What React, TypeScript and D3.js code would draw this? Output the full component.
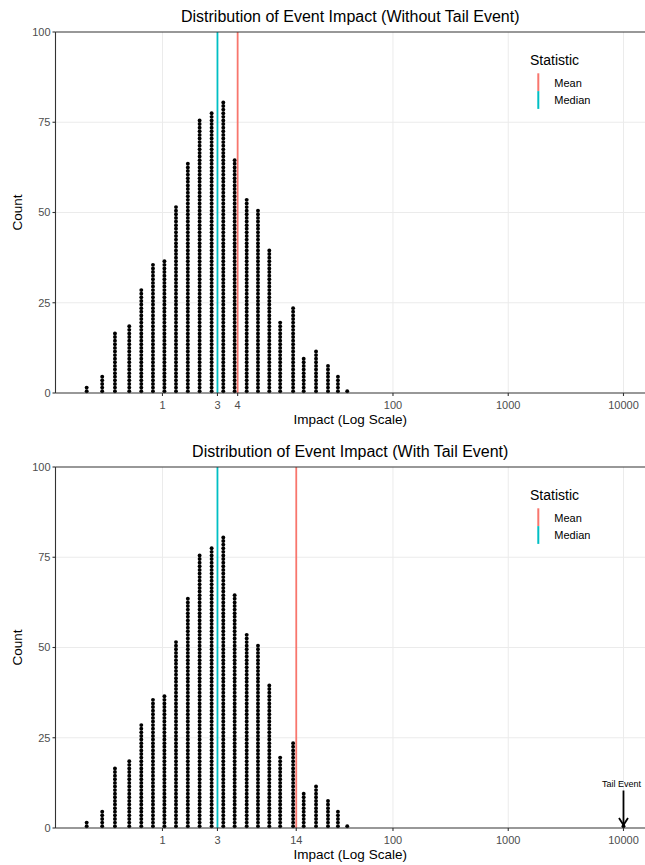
import React from "react";
import * as d3 from "d3";

// ---- data ----
const binImpacts = [0.22, 0.3, 0.387, 0.515, 0.655, 0.827, 1.04, 1.31, 1.66, 2.1, 2.67, 3.37, 4.23, 5.38, 6.74, 8.45, 10.5, 13.6, 16.8, 21.5, 27.3, 33.3, 40.1];
const binCounts = [2, 5, 17, 19, 29, 36, 37, 52, 64, 76, 78, 81, 65, 54, 51, 40, 20, 24, 10, 12, 8, 5, 1];
const tailImpact = 10000;
const tailCount = 1;
const medianImpact = 3.0;
const meanWithout = 4.49;
const meanWith = 14.48;
const yTicks = [0, 25, 50, 75, 100];
const fixedXBreaks = [1, 100, 1000, 10000];
const statNames = ["Mean", "Median"];
const statColors = ["#F8766D", "#00BFC4"];
const titles = ["Distribution of Event Impact (Without Tail Event)", "Distribution of Event Impact (With Tail Event)"];

const W = 645;
const H = 865;
const FONT = "'Liberation Sans', Arial, Helvetica, sans-serif";

const xScale = d3.scaleLog().domain([0.118, 15370]).range([55.5, 645]);

function Panel({ top, title, mean, withTail }: { top: number; title: string; mean: number; withTail: boolean }) {
  const y = d3.scaleLinear().domain([0, 100]).range([top + 361, top]);
  const y0 = y(0);
  const unit = y(0) - y(1);
  const r = 1.95;
  const x0 = xScale.range()[0];
  const x1 = xScale.range()[1];
  const breaks = [1, medianImpact, mean, 100, 1000, 10000].sort((a, b) => a - b);
  const dots: { cx: number; cy: number }[] = [];
  binImpacts.forEach((v, i) => {
    for (let k = 0; k < binCounts[i]; k++) dots.push({ cx: xScale(v), cy: y0 - unit * (k + 0.5) });
  });
  if (withTail) {
    for (let k = 0; k < tailCount; k++) dots.push({ cx: xScale(tailImpact), cy: y0 - unit * (k + 0.5) });
  }
  const statValues = [mean, medianImpact];
  const legX = 530;
  const legTop = top + 28;
  const tx = xScale(tailImpact);
  return (
    <g>
      <text x={(x0 + x1) / 2} y={top - 10} textAnchor="middle" fontSize={16} fill="#000" fontFamily={FONT}>
        {title}
      </text>
      {/* grid */}
      {yTicks.filter((t) => t > 0 && t < 100).map((t) => (
        <line key={"gy" + t} x1={x0} x2={x1} y1={y(t)} y2={y(t)} stroke="#EBEBEB" strokeWidth={1} />
      ))}
      {fixedXBreaks.map((b) => (
        <line key={"gx" + b} x1={xScale(b)} x2={xScale(b)} y1={y(100)} y2={y0} stroke="#EBEBEB" strokeWidth={1} />
      ))}
      {/* dots */}
      {dots.map((d, i) => (
        <circle key={i} cx={d.cx} cy={d.cy} r={r} fill="#000" />
      ))}
      {/* stat lines */}
      {statValues.map((v, i) => (
        <line key={"s" + i} x1={xScale(v)} x2={xScale(v)} y1={y(100)} y2={y0} stroke={statColors[i]} strokeWidth={1.8} />
      ))}
      {/* axes */}
      <line x1={x0} x2={x1} y1={y(100)} y2={y(100)} stroke="#333" strokeWidth={1.1} />
      <line x1={x0} x2={x0} y1={y(100)} y2={y0} stroke="#333" strokeWidth={1.1} />
      <line x1={x0} x2={x1} y1={y0} y2={y0} stroke="#333" strokeWidth={1.1} />
      {yTicks.map((t) => (
        <g key={"yt" + t}>
          <line x1={x0 - 3} x2={x0} y1={y(t)} y2={y(t)} stroke="#333" strokeWidth={1.1} />
          <text x={x0 - 5} y={y(t)} dy="0.35em" textAnchor="end" fontSize={11} fill="#4D4D4D" fontFamily={FONT}>
            {t}
          </text>
        </g>
      ))}
      {breaks.map((b) => (
        <g key={"xt" + b}>
          <line x1={xScale(b)} x2={xScale(b)} y1={y0} y2={y0 + 3} stroke="#333" strokeWidth={1.1} />
          <text x={xScale(b)} y={y0 + 16} textAnchor="middle" fontSize={11} fill="#4D4D4D" fontFamily={FONT}>
            {String(Math.round(b))}
          </text>
        </g>
      ))}
      <text x={(x0 + x1) / 2} y={y0 + 31} textAnchor="middle" fontSize={13.5} fill="#000" fontFamily={FONT}>
        Impact (Log Scale)
      </text>
      <text transform={`translate(22,${(y(100) + y0) / 2}) rotate(-90)`} textAnchor="middle" fontSize={13.5} fill="#000" fontFamily={FONT}>
        Count
      </text>
      {/* legend */}
      <text x={legX} y={legTop + 5} fontSize={14} fill="#000" fontFamily={FONT}>
        Statistic
      </text>
      {statNames.map((n, i) => (
        <g key={"lg" + n}>
          <line x1={legX + 8.3} x2={legX + 8.3} y1={legTop + 13.3 + i * 17.8} y2={legTop + 13.3 + (i + 1) * 17.8} stroke={statColors[i]} strokeWidth={2} />
          <text x={legX + 24.3} y={legTop + 22.8 + i * 17.4} dy="0.35em" fontSize={11} fill="#000" fontFamily={FONT}>
            {n}
          </text>
        </g>
      ))}
      {withTail && (
        <g>
          <text x={tx - 2} y={y0 - 41} textAnchor="middle" fontSize={9} fill="#000" fontFamily={FONT}>
            Tail Event
          </text>
          <line x1={tx} x2={tx} y1={y0 - 37.5} y2={y0 - 3} stroke="#000" strokeWidth={1.8} />
          <polyline points={`${tx - 4.5},${y0 - 10} ${tx},${y0 - 3} ${tx + 4.5},${y0 - 10}`} fill="none" stroke="#000" strokeWidth={1.8} />
        </g>
      )}
    </g>
  );
}

export default function App() {
  return (
    <svg width={W} height={H} style={{ position: "absolute", left: 0, top: 0, background: "#fff" }}>
      <rect width={W} height={H} fill="#fff" />
      <Panel top={32} title={titles[0]} mean={meanWithout} withTail={false} />
      <Panel top={467} title={titles[1]} mean={meanWith} withTail={true} />
    </svg>
  );
}
